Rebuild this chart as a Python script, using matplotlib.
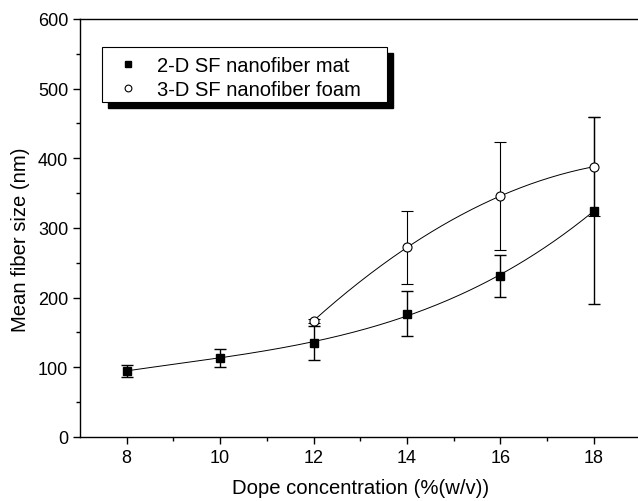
import numpy as np
import matplotlib.pyplot as plt
from matplotlib.patches import Rectangle

plt.rcParams['font.family'] = ['Liberation Sans', 'DejaVu Sans']

# Dope concentration (%(w/v)) and mean fiber size (nm)
conc_2d = [8, 10, 12, 14, 16, 18]
size_2d = [95, 114, 135, 177, 231, 325]
err_2d = [9, 13, 24, 32, 30, 134]

conc_3d = [12, 14, 16, 18]
size_3d = [167, 272, 346, 388]
err_3d = [3, 53, 78, 71]

fig = plt.figure(figsize=(6.38, 5.02), dpi=100)
ax = fig.add_axes([0.1254, 0.1275, 0.8787, 0.8327])

# smooth fitted curves through each series
xs = np.linspace(8, 18, 200)
fit_2d = np.polyfit(conc_2d, size_2d, 3)
ax.plot(xs, np.polyval(fit_2d, xs), color='black', lw=0.7)
xs3 = np.linspace(12, 18, 200)
fit_3d = np.polyfit(conc_3d, size_3d, 3)
ax.plot(xs3, np.polyval(fit_3d, xs3), color='black', lw=0.7)

ax.errorbar(conc_2d, size_2d, yerr=err_2d, fmt='s', color='black', ms=6,
            ecolor='black', elinewidth=1, capsize=4, capthick=1,
            label='2-D SF nanofiber mat')
ax.errorbar(conc_3d, size_3d, yerr=err_3d, fmt='o', color='black', mfc='white',
            ms=6.5, mew=0.8, ecolor='black', elinewidth=0.8, capsize=4,
            capthick=0.8, label='3-D SF nanofiber foam')

ax.set_xlim(7, 19)
ax.set_ylim(0, 600)
ax.set_xticks([8, 10, 12, 14, 16, 18])
ax.set_xticks([9, 11, 13, 15, 17], minor=True)
ax.set_yticks([0, 100, 200, 300, 400, 500, 600])
ax.set_yticks(np.arange(50, 600, 100), minor=True)
ax.tick_params(which='major', direction='out', length=5, width=1, labelsize=13)
ax.tick_params(which='minor', direction='out', length=3, width=1)
ax.spines['right'].set_visible(False)
for s in ['left', 'bottom', 'top']:
    ax.spines[s].set_linewidth(1)

ax.set_xlabel('Dope concentration (%(w/v))', fontsize=14.6, labelpad=9)
ax.set_ylabel('Mean fiber size (nm)', fontsize=14.6)
ax.yaxis.set_label_coords(-0.09, 0.474)

# legend box with a solid offset shadow, Origin style
ax.add_patch(Rectangle((0.0499, 0.787), 0.509, 0.132, transform=ax.transAxes,
                       facecolor='black', edgecolor='black', zorder=4))
ax.add_patch(Rectangle((0.0392, 0.8014), 0.509, 0.132, transform=ax.transAxes,
                       facecolor='white', edgecolor='black', lw=0.8, zorder=4.5))

handles, labels = ax.get_legend_handles_labels()
handles = [h[0] for h in handles]
leg = ax.legend(handles, labels, loc='upper left', bbox_to_anchor=(0.039, 0.928),
                fontsize=14.5, frameon=False, markerscale=0.75,
                handlelength=1.9, borderpad=0.35, labelspacing=0.25,
                handletextpad=0.5, borderaxespad=0)
leg.set_zorder(5)

fig.savefig('out.png', dpi=100)
